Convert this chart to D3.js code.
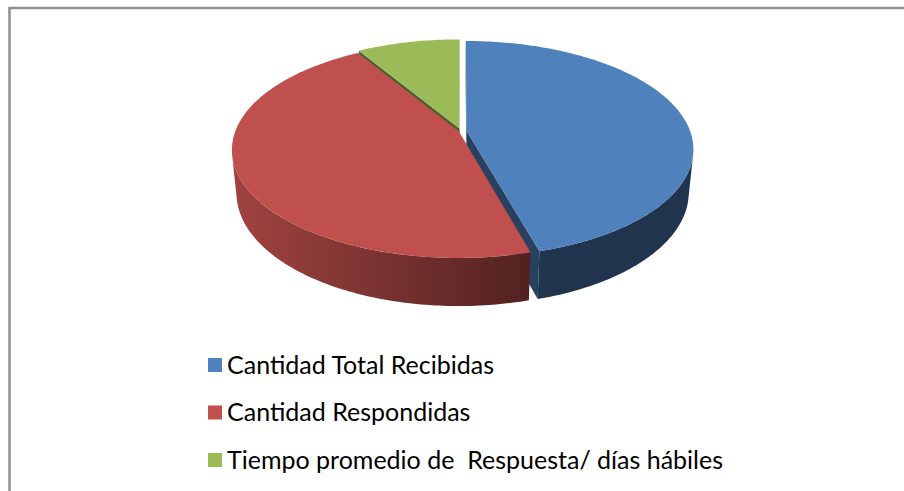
<!DOCTYPE html>
<html>
<head>
<meta charset="utf-8">
<script src="https://cdn.jsdelivr.net/npm/d3@7"></script>
<style>
  html, body { margin: 0; padding: 0; background: #fff; }
</style>
</head>
<body>
<script>
// chart data
const categories = ["Cantidad Total Recibidas", "Cantidad Respondidas", "Tiempo promedio de  Respuesta/ días hábiles"];
const values = [100, 100, 19];
const colors = ["#4F81BD", "#C0504D", "#9BBB59"];
const explode = [0.025, 0.01, 0.025];

const W = 904, H = 491;

const svg = d3.select("body").append("svg")
  .attr("width", W)
  .attr("height", H);

const defs = svg.append("defs");

// frame (only the top and left edges show)
svg.append("rect")
  .attr("x", 9.5).attr("y", 8)
  .attr("width", 1000).attr("height", 1000)
  .attr("fill", "none")
  .attr("stroke", "#8e8e8e")
  .attr("stroke-width", 2.5);

// 3d projection of the pie, y up, z toward the viewer
const cx = 461, cy = 131;
const alpha = 28 * Math.PI / 180;
const sa = Math.sin(alpha), ca = Math.cos(alpha);
const D = 5.22, f = 1167, h = 0.22;
const cam = [0, D * sa, D * ca];

function proj(p) {
  const depth = D - p[1] * sa - p[2] * ca;
  return [cx + f * p[0] / depth, cy - f * (p[1] * ca - p[2] * sa) / depth];
}
function rim(a, y, o) { return [o[0] + Math.sin(a), y, o[1] - Math.cos(a)]; }
function facing(p, n) {
  return (cam[0] - p[0]) * n[0] + (cam[1] - p[1]) * n[1] + (cam[2] - p[2]) * n[2] > 0;
}
function depthOf(p) { return D - p[1] * sa - p[2] * ca; }

const pie = d3.pie().sort(null).startAngle(0).endAngle(2 * Math.PI);
const arcs = pie(values);

// side walls get darker from left to right
const wallShade = d3.scaleLinear().domain([232, 540]).range([0.84, 0.41]).clamp(true);
function shade(c, k) {
  const col = d3.rgb(c);
  return d3.rgb(col.r * k, col.g * k, col.b * k).formatHex();
}

const radial = [], outer = [], tops = [];
const step = Math.PI / 180;

arcs.forEach((d, i) => {
  const mid = (d.startAngle + d.endAngle) / 2;
  const o = [explode[i] * Math.sin(mid), -explode[i] * Math.cos(mid)];
  const c0 = [o[0], 0, o[1]], c1 = [o[0], -h, o[1]];

  // top face
  const pts = [c0];
  for (let a = d.startAngle; a < d.endAngle; a += step) pts.push(rim(a, 0, o));
  pts.push(rim(d.endAngle, 0, o));
  tops.push({ pts: pts, fill: colors[i] });

  // cut walls
  [[d.startAngle, [-Math.cos(d.startAngle), 0, -Math.sin(d.startAngle)]],
   [d.endAngle, [Math.cos(d.endAngle), 0, Math.sin(d.endAngle)]]].forEach(([a, n]) => {
    const q = [c0, rim(a, 0, o), rim(a, -h, o), c1];
    const m = [o[0] + 0.5 * Math.sin(a), -h / 2, o[1] - 0.5 * Math.cos(a)];
    if (facing(m, n)) radial.push({ pts: q, fill: shade(colors[i], 0.5), z: depthOf(m) });
  });

  // curved outer wall: visible angles only, one path per slice
  const n = Math.max(1, Math.ceil((d.endAngle - d.startAngle) / step));
  const da = (d.endAngle - d.startAngle) / n;
  const vis = [];
  for (let k = 0; k <= n; k++) {
    const a = d.startAngle + k * da;
    if (facing(rim(a, -h / 2, o), [Math.sin(a), 0, -Math.cos(a)])) vis.push(a);
  }
  if (vis.length > 1) {
    const topPts = vis.map(a => rim(a, 0, o));
    const botPts = vis.map(a => rim(a, -h, o)).reverse();
    const all = topPts.concat(botPts).map(proj);
    const xs = d3.extent(all, p => p[0]);
    const id = "wall" + i;
    const grad = defs.append("linearGradient")
      .attr("id", id)
      .attr("gradientUnits", "userSpaceOnUse")
      .attr("x1", xs[0]).attr("x2", xs[1]).attr("y1", 0).attr("y2", 0);
    d3.range(11).forEach(s => {
      const x = xs[0] + (xs[1] - xs[0]) * s / 10;
      grad.append("stop").attr("offset", s / 10).attr("stop-color", shade(colors[i], wallShade(x)));
    });
    outer.push({ screen: all, fill: `url(#${id})`, z: depthOf(rim((vis[0] + vis[vis.length - 1]) / 2, -h / 2, o)) });
  }
});

radial.sort((a, b) => b.z - a.z);
outer.sort((a, b) => b.z - a.z);

const line = d3.line().x(p => p[0]).y(p => p[1]).curve(d3.curveLinearClosed);
const g = svg.append("g");

g.selectAll("path.radial").data(radial).join("path")
  .attr("class", "radial")
  .attr("d", d => line(d.pts.map(proj)))
  .attr("fill", d => d.fill);

g.selectAll("path.outer").data(outer).join("path")
  .attr("class", "outer")
  .attr("d", d => line(d.screen))
  .attr("fill", d => d.fill);

g.selectAll("path.top").data(tops).join("path")
  .attr("class", "top")
  .attr("d", d => line(d.pts.map(proj)))
  .attr("fill", d => d.fill);

// legend
const legendY = d3.scalePoint().domain(categories).range([365, 460]);
const legend = svg.append("g").selectAll("g").data(categories).join("g")
  .attr("transform", d => `translate(208,${legendY(d)})`);

legend.append("rect")
  .attr("x", 0).attr("y", -7)
  .attr("width", 14).attr("height", 14)
  .attr("fill", (d, i) => colors[i]);

legend.append("text")
  .attr("x", 19).attr("y", 8.5)
  .attr("font-family", "Lato, 'Noto Sans', sans-serif")
  .attr("font-size", 25)
  .attr("fill", "#000")
  .style("white-space", "pre")
  .text(d => d);
</script>
</body>
</html>
